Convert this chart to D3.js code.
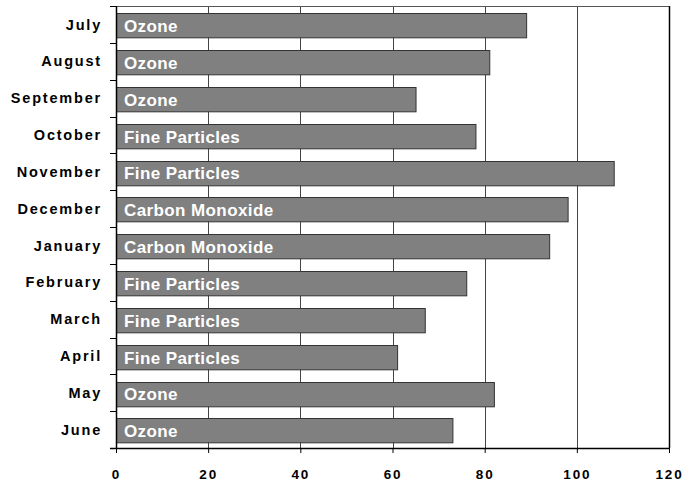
<!DOCTYPE html>
<html>
<head>
<meta charset="utf-8">
<script src="https://cdn.jsdelivr.net/npm/d3@7"></script>
<style>
  html, body { margin: 0; padding: 0; background: #fff; }
  svg { display: block; font-family: "Liberation Sans", Arial, sans-serif; }
</style>
</head>
<body>
<svg id="chart" width="697" height="483"></svg>
<script>
// Monthly peak index with the leading pollutant for each month
const months = ["July", "August", "September", "October", "November", "December",
                "January", "February", "March", "April", "May", "June"];
const values = [89, 81, 65, 78, 108, 98, 94, 76, 67, 61, 82, 73];
const pollutants = ["Ozone", "Ozone", "Ozone", "Fine Particles", "Fine Particles",
                    "Carbon Monoxide", "Carbon Monoxide", "Fine Particles",
                    "Fine Particles", "Fine Particles", "Ozone", "Ozone"];
const xTicks = [0, 20, 40, 60, 80, 100, 120];

const rows = months.map((m, i) => ({ month: m, value: values[i], pollutant: pollutants[i] }));

const svg = d3.select("#chart");
const margin = { top: 6, right: 28, bottom: 35, left: 116 };
const W = 697, H = 483;
const iw = W - margin.left - margin.right;
const ih = H - margin.top - margin.bottom;

const g = svg.append("g").attr("transform", `translate(${margin.left},${margin.top})`);

const x = d3.scaleLinear().domain([0, 120]).range([0, iw]);
const y = d3.scaleBand().domain(months).range([0, ih]).paddingInner(0.34).paddingOuter(0.17);

// vertical gridlines
g.append("g").selectAll("line")
  .data(xTicks.filter(t => t > 0 && t < 120))
  .join("line")
  .attr("x1", d => Math.round(x(d)) + 0.5).attr("x2", d => Math.round(x(d)) + 0.5)
  .attr("y1", 0).attr("y2", ih)
  .attr("stroke", "#444").attr("stroke-width", 1);

// top and right frame
g.append("line").attr("x1", 0).attr("x2", iw).attr("y1", 0.5).attr("y2", 0.5)
  .attr("stroke", "#555");
g.append("line").attr("x1", iw + 0.5).attr("x2", iw + 0.5).attr("y1", 0).attr("y2", ih)
  .attr("stroke", "#000").attr("stroke-width", 1.5);

// bars
g.append("g").selectAll("rect")
  .data(rows)
  .join("rect")
  .attr("x", x(0) + 0.5)
  .attr("y", d => Math.round(y(d.month) + 1) + 0.5)
  .attr("width", d => x(d.value) - x(0))
  .attr("height", y.bandwidth())
  .attr("fill", "#808080")
  .attr("stroke", "#333")
  .attr("stroke-width", 1);

// pollutant labels inside bars
g.append("g").selectAll("text")
  .data(rows)
  .join("text")
  .attr("x", 8)
  .attr("y", d => y(d.month) + 1.5 + y.bandwidth() / 2)
  .attr("dy", "0.36em")
  .attr("fill", "#fff")
  .attr("font-size", 17)
  .attr("font-weight", "bold")
  .attr("letter-spacing", "0.4px")
  .text(d => d.pollutant);

// left axis with ticks at band boundaries
const yAxisG = g.append("g");
yAxisG.append("line").attr("x1", 0.5).attr("x2", 0.5).attr("y1", 0).attr("y2", ih)
  .attr("stroke", "#000").attr("stroke-width", 1.5);
const bounds = d3.range(months.length + 1).map(i => i * ih / months.length);
yAxisG.selectAll("line.tick")
  .data(bounds)
  .join("line")
  .attr("class", "tick")
  .attr("x1", -6).attr("x2", 0)
  .attr("y1", d => Math.round(d) + 0.5).attr("y2", d => Math.round(d) + 0.5)
  .attr("stroke", "#000");
yAxisG.selectAll("text")
  .data(months)
  .join("text")
  .attr("x", -14)
  .attr("y", (d, i) => (bounds[i] + bounds[i + 1]) / 2)
  .attr("dy", "0.36em")
  .attr("text-anchor", "end")
  .attr("font-size", 14.5)
  .attr("font-weight", "bold")
  .attr("letter-spacing", "1.8px")
  .attr("fill", "#000")
  .text(d => d);

// bottom axis
const xAxis = d3.axisBottom(x).tickValues(xTicks).tickSize(5).tickSizeOuter(0).tickPadding(16);
const xAxisG = g.append("g").attr("transform", `translate(0,${ih})`).call(xAxis);
xAxisG.select(".domain").attr("stroke", "#000").attr("stroke-width", 1.5)
  .attr("d", `M-6,0.5H${iw}`);
xAxisG.selectAll(".tick line").attr("stroke", "#000");
xAxisG.selectAll(".tick text")
  .attr("font-size", 13.5)
  .attr("font-weight", "bold")
  .attr("letter-spacing", "1.8px")
  .attr("font-family", "'Liberation Sans', Arial, sans-serif")
  .attr("fill", "#000");
</script>
</body>
</html>
